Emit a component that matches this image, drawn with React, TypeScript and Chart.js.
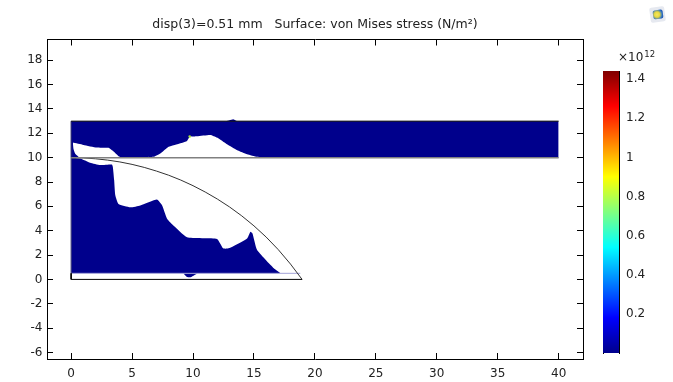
import React, { useEffect, useRef } from "react";
import { Chart, registerables } from "chart.js";

Chart.register(...registerables);

const FONT = "'DejaVu Sans', sans-serif";
const TEXT = "#222222";
const NAVY = "#00008c";

const titleText = "disp(3)=0.51 mm   Surface: von Mises stress (N/m²)";

const beamX = [0, 40];
const beamTop = [13, 13];
const beamBottom = [10, 10];

const beamBumpX = [12.7, 13.0, 13.3, 13.5, 13.6];
const beamBumpY = [13, 13.08, 13.16, 13.05, 13];

const beamHoleX = [0.14, 1.01, 2.11, 3.07, 3.42, 3.89, 4.16, 6.77, 7.32, 8.0, 8.41, 9.51, 9.73, 10.33, 11.42, 11.97, 12.79, 13.62, 14.44, 15.26, 16.08];
const beamHoleY = [11.24, 11.05, 10.83, 10.81, 10.56, 10.12, 10, 10.07, 10.34, 10.89, 11.02, 11.38, 11.71, 11.76, 11.87, 11.65, 11.1, 10.62, 10.29, 10.07, 10];

const sliverX = [0.14, 0.2, 0.35, 0.7];
const sliverY = [11.24, 10.7, 10.3, 10];

const domeFillX = [0, 0.74, 1.56, 2.38, 3.34, 3.42, 3.53, 3.62, 3.89, 4.85, 5.67, 7.04, 7.45, 7.86, 8.27, 9.51, 11.97, 12.47, 12.93, 14.44, 14.71, 14.88, 15.26, 16.63, 17.18];
const domeFillY = [10, 9.93, 9.58, 9.39, 9.44, 9.25, 8.16, 6.93, 6.19, 5.92, 6.08, 6.57, 6.11, 5.01, 4.55, 3.46, 3.32, 2.55, 2.55, 3.37, 3.92, 3.78, 2.42, 0.92, 0.51];

const stripX = [0, 18.8];
const stripY = [0.5, 0.5];

const domeBumpX = [9.2, 9.5, 9.8, 10.1, 10.4];
const domeBumpY = [0.5, 0.2, 0.18, 0.35, 0.5];

const arcX = [0, 1, 2, 3, 4, 5, 6, 7, 8, 9, 10, 11, 12, 13, 14, 15, 16, 17, 18, 18.95];
const arcY = [10, 9.98, 9.91, 9.8, 9.65, 9.45, 9.2, 8.9, 8.56, 8.16, 7.7, 7.18, 6.6, 5.95, 5.22, 4.4, 3.48, 2.44, 1.26, 0];

const domeBaseX = [0, 0, 18.95];
const domeBaseY = [0.5, 0, 0];

const domeLeftX = [0, 0];
const domeLeftY = [0.5, 10];

const beamLeftX = [0, 0];
const beamLeftY = [10, 13];

const hotSpotX = [9.73];
const hotSpotY = [11.74];

const colorStopPositions = [0, 0.11, 0.125, 0.375, 0.625, 0.875, 1];
const colorStopColors = ["#00008c", "#0000f0", "#0000ff", "#00ffff", "#ffff00", "#ff0000", "#800000"];

const colorbarCategories = ["stress"];
const colorbarRange: [number, number] = [0.002, 1.441];

const xy = (xs: number[], ys: number[]) => xs.map((x, i) => ({ x, y: ys[i] }));

const line = (xs: number[], ys: number[], color: string, width: number, order: number) => ({
  data: xy(xs, ys),
  showLine: true,
  borderColor: color,
  borderWidth: width,
  pointRadius: 0,
  fill: false,
  order,
});

const area = (xs: number[], ys: number[], base: number, color: string, order: number) => ({
  data: xy(xs, ys),
  showLine: true,
  tension: 0.15,
  borderWidth: 0,
  borderColor: color,
  backgroundColor: color,
  pointRadius: 0,
  fill: { target: { value: base } },
  order,
});

const axisOptions = (extra: any) => ({
  type: "linear",
  border: { color: "#000000", width: 1 },
  grid: { drawOnChartArea: false, color: "#000000", tickLength: -6 },
  ...extra,
});

export default function App() {
  const mainRef = useRef<HTMLCanvasElement>(null);
  const barRef = useRef<HTMLCanvasElement>(null);

  useEffect(() => {
    const xRange = { min: -1.98, max: 42.0 };
    const yRange = { min: -6.54, max: 19.71 };
    const main = new Chart(mainRef.current!, {
      type: "scatter",
      data: {
        datasets: [
          line(beamX, beamTop, "#000000", 1, 1),
          line(beamX, beamBottom, "#808080", 1.5, 1),
          line(beamLeftX, beamLeftY, "#101060", 1, 1),
          line(domeBaseX, domeBaseY, "#000000", 1, 1),
          line(domeLeftX, domeLeftY, "#303070", 1, 1),
          line(arcX, arcY, "#333333", 1, 1),
          {
            data: xy(hotSpotX, hotSpotY),
            pointRadius: 1.3,
            pointBorderWidth: 0,
            pointBackgroundColor: "#a8e040",
            order: 2,
          },
          area(sliverX, sliverY, 10, NAVY, 3),
          area(beamHoleX, beamHoleY, 10, "#ffffff", 4),
          area(beamX, beamTop, 10, NAVY, 5),
          area(beamBumpX, beamBumpY, 13, NAVY, 5),
          line(stripX, stripY, "#a4a4d8", 1, 3),
          area(domeBumpX, domeBumpY, 0.5, NAVY, 4),
          area(domeFillX, domeFillY, 0.5, NAVY, 5),
        ] as any,
      },
      options: {
        animation: false,
        responsive: false,
        layout: { padding: { left: 0, right: 90, top: 0, bottom: 0 } },
        plugins: {
          legend: { display: false },
          tooltip: { enabled: false },
          title: {
            display: true,
            fullSize: false,
            text: titleText,
            color: TEXT,
            font: { family: FONT, size: 12.5, weight: "normal", lineHeight: 1.2 },
            padding: { top: 17, bottom: 7.5 },
          },
        },
        scales: {
          x: axisOptions({
            position: "bottom",
            ...xRange,
            ticks: { stepSize: 5, includeBounds: false, color: TEXT, font: { family: FONT, size: 12 }, padding: 14, maxRotation: 0 },
            afterFit: (s: any) => { s.height = 23; },
          }),
          x2: axisOptions({
            position: "top",
            ...xRange,
            ticks: { stepSize: 5, includeBounds: false, display: false },
            afterFit: (s: any) => { s.height = 0; },
          }),
          y: axisOptions({
            position: "left",
            ...yRange,
            ticks: { stepSize: 2, includeBounds: false, color: TEXT, font: { family: FONT, size: 12 }, padding: 10.5 },
            afterFit: (s: any) => { s.width = 47; },
          }),
          y2: axisOptions({
            position: "right",
            ...yRange,
            ticks: { stepSize: 2, includeBounds: false, display: false },
            afterFit: (s: any) => { s.width = 0; },
          }),
        } as any,
      },
    });

    const scaleRange = { min: colorbarRange[0], max: colorbarRange[1] };
    const bar = new Chart(barRef.current!, {
      type: "bar",
      data: {
        labels: colorbarCategories,
        datasets: [
          {
            data: [colorbarRange],
            barPercentage: 1,
            categoryPercentage: 1,
            borderSkipped: false,
            backgroundColor: (ctx: any) => {
              const area = ctx.chart.chartArea;
              if (!area) return "#0000ff";
              const g = ctx.chart.ctx.createLinearGradient(0, area.bottom, 0, area.top);
              colorStopPositions.forEach((p, i) => g.addColorStop(p, colorStopColors[i]));
              return g;
            },
          },
        ] as any,
      },
      options: {
        animation: false,
        responsive: false,
        layout: { padding: { left: 13, right: 0, top: 26, bottom: 22 } },
        plugins: {
          legend: { display: false },
          tooltip: { enabled: false },
          title: { display: false },
        },
        scales: {
          x: { display: false },
          y: {
            position: "right",
            ...scaleRange,
            border: { color: "#000000", width: 1 },
            grid: { drawOnChartArea: false, color: "#000000", tickLength: -3 },
            ticks: {
              stepSize: 0.2,
              includeBounds: false,
              color: TEXT,
              font: { family: FONT, size: 12 },
              padding: 10,
              callback: (v: any) => String(Math.round(Number(v) * 10) / 10),
            },
            afterFit: (s: any) => { s.width = 54; },
          },
          y3: {
            position: "left",
            ...scaleRange,
            border: { color: "#000000", width: 1 },
            grid: { drawOnChartArea: false, color: "#000000", tickLength: -3 },
            ticks: { stepSize: 0.2, includeBounds: false, display: false },
            afterFit: (s: any) => { s.width = 0; },
          },
        } as any,
      },
    });

    return () => {
      main.destroy();
      bar.destroy();
    };
  }, []);

  return (
    <div style={{ position: "fixed", left: 0, top: 0, width: 673, height: 382, background: "#ffffff", overflow: "hidden" }}>
      <canvas ref={mainRef} width={673} height={382} style={{ position: "absolute", left: 0, top: 0 }} />
      <canvas ref={barRef} width={83} height={330} style={{ position: "absolute", left: 590, top: 45 }} />
      <div
        style={{
          position: "absolute",
          left: 618,
          top: 50,
          fontFamily: FONT,
          fontSize: 12,
          lineHeight: "14px",
          color: TEXT,
          whiteSpace: "nowrap",
        }}
      >
        ×10
        <span style={{ fontSize: 8.5, position: "relative", top: -4, marginLeft: 1 }}>12</span>
      </div>
      <div
        style={{
          position: "absolute",
          left: 650,
          top: 7,
          width: 15,
          height: 15,
          background: "#e6e9f0",
          borderRadius: 2,
          transform: "rotate(-8deg)",
        }}
      >
        <div
          style={{
            position: "absolute",
            left: 3,
            top: 3,
            width: 10,
            height: 9,
            borderRadius: 2,
            background: "radial-gradient(circle at 40% 50%, #f4e860 0%, #e8d840 35%, #2a70c8 70%, #1a3a90 100%)",
          }}
        />
      </div>
    </div>
  );
}
